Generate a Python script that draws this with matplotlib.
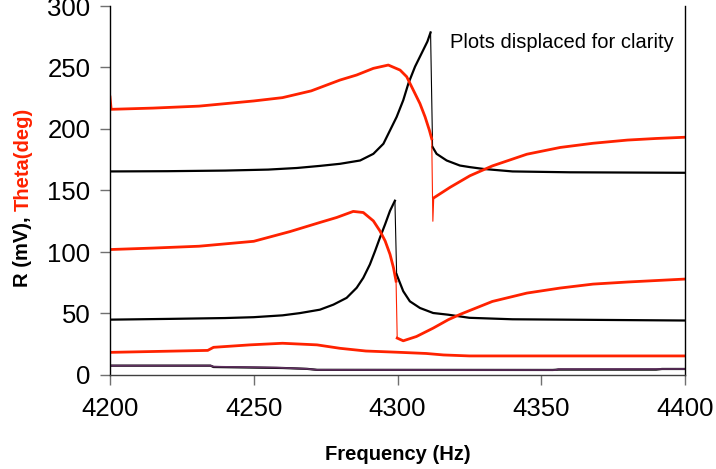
import matplotlib
matplotlib.use("Agg")
import matplotlib.pyplot as plt

plt.rcParams['font.family'] = ['Liberation Sans', 'DejaVu Sans']

RED = "#ff2200"
PURPLE = "#603060"

# top pair (displaced for clarity)
freq_top_r = [4200, 4220, 4240, 4255, 4265, 4273, 4280, 4287, 4291.6, 4295.1, 4297.4, 4299.7,
              4302, 4303.8, 4306.1, 4308.4, 4310.4, 4311.5, 4312.2, 4313.6, 4317.1, 4321.7,
              4325.2, 4330, 4340, 4360, 4400]
top_r = [165.5, 165.7, 166.2, 167, 168.3, 170, 171.7, 174.4, 179.8, 188, 198.9, 209.8,
         223.4, 237.1, 250.7, 261.6, 271.1, 278.5, 185.3, 179.8, 174.4, 170.3,
         169, 167.5, 165.5, 164.8, 164.4]
top_r_jump = (17, 18)

freq_top_th = [4200, 4200.4, 4215, 4231, 4250, 4260, 4270, 4280, 4285.8, 4291.6, 4296.8, 4300.9,
               4303.2, 4305.5, 4307.8, 4309.6, 4311.1, 4311.9, 4312.3, 4312.6, 4318.3, 4325.2,
               4333, 4345, 4356.6, 4368, 4380, 4390, 4400]
top_th = [226, 216, 217, 218.6, 222.8, 225.5, 231, 239.8, 243.9, 249.3, 252, 247.9,
          242.5, 231.6, 220.7, 209.8, 198.9, 192.1, 125, 144, 152.6, 162,
          170, 179.5, 185, 188.4, 191, 192.3, 193.3]
top_th_jump = (17, 19)

# middle pair
freq_mid_r = [4200, 4220, 4240, 4250, 4260, 4266, 4273, 4277.7, 4282.3, 4285.8, 4288.1, 4290.4,
              4292.2, 4293.9, 4295.7, 4297.4, 4299.1, 4299.7, 4302, 4304.3, 4307.8, 4312.4,
              4317.7, 4325, 4340, 4370, 4400]
mid_r = [45, 45.6, 46.3, 47, 48.5, 50.3, 53.1, 57.2, 62.7, 70.9, 79, 89.9,
         100.8, 111.7, 122.6, 133.5, 141.7, 81.7, 68.1, 59.9, 54.5, 50.4,
         49, 46.5, 45.3, 44.8, 44.3]
mid_r_jump = (16, 17)

freq_mid_th = [4200, 4215, 4231, 4250, 4262.6, 4273, 4278.9, 4284.6, 4288.1, 4291.6, 4293.9, 4295.7,
               4297.4, 4298.6, 4299.5, 4299.9, 4302, 4306.6, 4312.4, 4317.7, 4322, 4333,
               4345, 4356.6, 4368, 4380, 4400]
mid_th = [102, 103.2, 104.7, 108.7, 116.6, 124, 128.1, 133, 132.1, 125.3, 117.1, 109,
          98.1, 87.2, 76.3, 30, 27.8, 31.3, 38.1, 45, 49.5, 59.8,
          66.6, 70.7, 73.9, 75.6, 78]
mid_th_jump = (14, 15)

# bottom pair (not displaced)
freq_bot_th = [4200, 4234, 4236, 4248.7, 4260, 4272, 4280, 4289, 4300, 4310, 4316, 4325, 4400]
bot_th = [18.4, 20, 22.5, 24.5, 25.8, 24.5, 21.7, 19.5, 18.5, 17.5, 16.3, 15.5, 15.5]

freq_bot_r = [4200, 4235, 4236, 4260, 4268.5, 4272, 4354, 4356, 4390, 4392, 4400]
bot_r = [7.6, 7.6, 6.5, 5.7, 5.0, 4.2, 4.1, 4.4, 4.4, 4.9, 4.9]
freq_bot_p = [4200, 4235, 4236, 4258, 4268.5, 4272, 4320, 4355, 4356, 4400]
bot_p = [7.6, 7.6, 6.8, 6.0, 5.0, 4.2, 4.1, 4.1, 4.8, 4.9]

x_ticks = [4200, 4250, 4300, 4350, 4400]
y_ticks = [0, 50, 100, 150, 200, 250, 300]


def plot_jumpy(ax, f, v, jump, color, lw):
    a, b = jump
    ax.plot(f[:a + 1], v[:a + 1], color=color, lw=lw, solid_joinstyle='round')
    ax.plot(f[a:b + 1], v[a:b + 1], color=color, lw=0.8)
    ax.plot(f[b:], v[b:], color=color, lw=lw, solid_joinstyle='round')


fig = plt.figure(figsize=(7.16, 4.69), dpi=100)
ax = fig.add_axes([110 / 716, 1 - 375 / 469, 575 / 716, 369 / 469])

ax.plot(freq_bot_r, bot_r, color="black", lw=1.6)
ax.plot(freq_bot_p, bot_p, color=PURPLE, lw=1.2)
ax.plot(freq_bot_th, bot_th, color=RED, lw=2.0)

plot_jumpy(ax, freq_mid_r, mid_r, mid_r_jump, "black", 1.6)
plot_jumpy(ax, freq_mid_th, mid_th, mid_th_jump, RED, 2.0)
plot_jumpy(ax, freq_top_r, top_r, top_r_jump, "black", 1.6)
plot_jumpy(ax, freq_top_th, top_th, top_th_jump, RED, 2.0)

ax.set_xlim(4200, 4400)
ax.set_ylim(0, 300)
ax.set_xticks(x_ticks)
ax.set_yticks(y_ticks)
ax.tick_params(axis='both', direction='out', length=7, width=1, color='#707070', labelsize=18.5)
ax.tick_params(axis='x', pad=9)
ax.tick_params(axis='y', pad=7)

ax.spines['top'].set_visible(False)
ax.spines['left'].set_color('black')
ax.spines['right'].set_color('black')
ax.spines['bottom'].set_color('#404040')
for s in ['left', 'right', 'bottom']:
    ax.spines[s].set_linewidth(1.0)

ax.set_xlabel("Frequency (Hz)", fontsize=14.5, fontweight='bold', labelpad=17)

fig.text(450 / 716, 1 - 42 / 469, "Plots displaced for clarity", fontsize=14.5,
         ha='left', va='center')

# two-colour y label
lab_x = 23 / 716
t1 = fig.text(lab_x, 1 - 287 / 469, "R (mV), ", rotation=90, ha='center', va='bottom',
              fontsize=14.5, fontweight='bold', color='black')
fig.canvas.draw()
bb = t1.get_window_extent()
fig.text(lab_x, bb.y1 / fig.bbox.height, "Theta(deg)", rotation=90, ha='center', va='bottom',
         fontsize=14.5, fontweight='bold', color=RED)

fig.savefig("out.png", dpi=100)
